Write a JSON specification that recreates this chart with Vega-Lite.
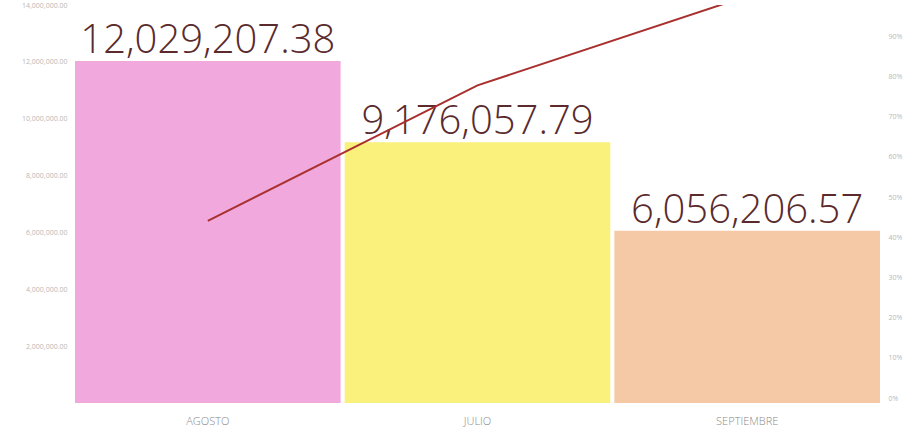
{
  "$schema": "https://vega.github.io/schema/vega-lite/v6.json",
  "width": 805,
  "height": 398,
  "autosize": "none",
  "padding": {"left": 75, "top": 5, "right": 25, "bottom": 37},
  "background": "#ffffff",
  "config": {"view": {"stroke": null}, "font": "Open Sans"},
  "data": {"values": [
    {"mes": "AGOSTO", "ventas": 12029207.38, "acumulado": 0.441},
    {"mes": "JULIO", "ventas": 9176057.79, "acumulado": 0.778},
    {"mes": "SEPTIEMBRE", "ventas": 6056206.57, "acumulado": 1.0}
  ]},
  "encoding": {
    "x": {"field": "mes", "type": "nominal", "sort": null,
      "scale": {"paddingInner": 0.015, "paddingOuter": 0},
      "axis": {"title": null, "labelAngle": 0, "domain": false, "ticks": false, "labelColor": "#8a8a8a", "labelFontSize": 11, "labelFontWeight": 300, "labelPadding": 12}}
  },
  "layer": [
    {
      "mark": {"type": "bar"},
      "encoding": {
        "y": {"field": "ventas", "type": "quantitative", "scale": {"domain": [0, 14000000]},
          "axis": {"title": null, "values": [2000000, 4000000, 6000000, 8000000, 10000000, 12000000, 14000000], "format": ",.2f", "grid": false, "domain": false, "ticks": false, "labelColor": "#b8b8b8", "labelFontSize": 7, "labelPadding": 8}},
        "color": {"field": "mes", "type": "nominal", "legend": null,
          "scale": {"domain": ["AGOSTO", "JULIO", "SEPTIEMBRE"], "range": ["#F1A8DC", "#FAF07C", "#F5C8A6"]}}
      }
    },
    {
      "mark": {"type": "text", "baseline": "alphabetic", "dy": -8, "fontSize": 40, "fontWeight": 300, "color": "#5a2a2c"},
      "encoding": {
        "y": {"field": "ventas", "type": "quantitative", "scale": {"domain": [0, 14000000]}, "axis": null},
        "text": {"field": "ventas", "type": "quantitative", "format": ",.2f"}
      }
    },
    {
      "mark": {"type": "line", "color": "#a8302e", "strokeWidth": 2, "clip": true},
      "encoding": {
        "y": {"field": "acumulado", "type": "quantitative", "scale": {"domain": [-0.0124, 0.978]},
          "axis": {"orient": "right", "title": null, "values": [0, 0.1, 0.2, 0.3, 0.4, 0.5, 0.6, 0.7, 0.8, 0.9], "format": ".0%", "grid": false, "domain": false, "ticks": false, "labelColor": "#b8b8b8", "labelFontSize": 7, "labelPadding": 8}}
      }
    }
  ],
  "resolve": {"scale": {"y": "independent"}}
}
